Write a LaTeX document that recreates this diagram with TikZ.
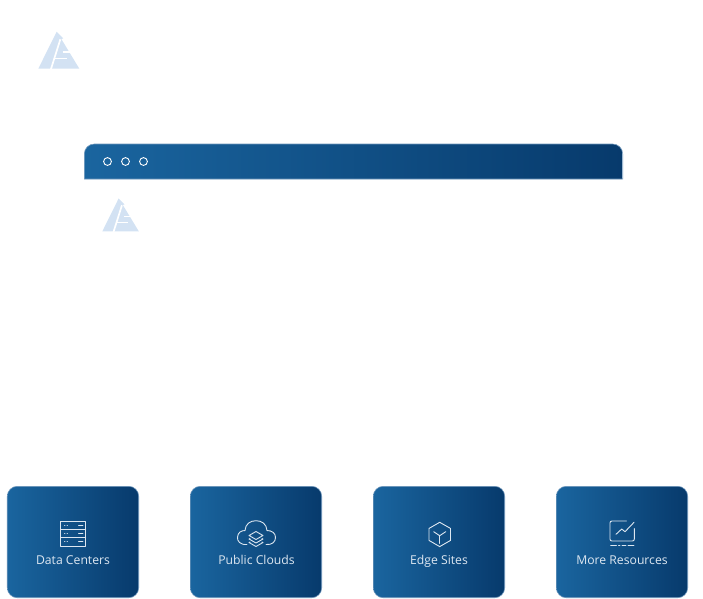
\documentclass[tikz,border=0pt]{standalone}
\usepackage{fontspec}
\setmainfont{Open Sans}
\usetikzlibrary{matrix}

\definecolor{barleft}{HTML}{1A659F}
\definecolor{barright}{HTML}{073A6C}
\definecolor{edge}{HTML}{6F97BC}
\definecolor{logoblue}{HTML}{D3E2F3}
\definecolor{cardtext}{HTML}{DDE7F1}

\tikzstyle{card} = [minimum width = 131.4pt, minimum height = 111.4pt, outer sep = 0pt, rounded corners = 10pt, draw = edge, line width = 0.6pt, left color = barleft, right color = barright]
\tikzstyle{lbl} = [text = cardtext, font = \fontsize{12.2}{14}\selectfont, inner sep = 0pt]
\tikzstyle{ico} = [draw = cardtext, line width = 0.9pt, line join = round, line cap = round]
\tikzstyle{dot} = [draw = white, line width = 0.9pt]

\tikzset{logo/.pic = {
    \fill [logoblue] (110,35) -- (130,55) -- (124,57) -- (178,146) -- (55,146) -- cycle;
    \draw [white, line width = 1.7pt] (121,58) -- (92,150);
    \draw [white, line width = 1.6pt] (106,116) -- (142,116);
    \draw [white, line width = 1.6pt] (128,96) -- (155,96);
}}

\begin{document}
\begin{tikzpicture}[x = 1pt, y = -1pt]
    \useasboundingbox (0,0) rectangle (703,598);

    % logos
    \pic [scale = 0.3333] at (20,20) {logo};
    \pic [scale = 0.2977] at (85.9,188) {logo};

    % window bar
    \draw [edge, line width = 0.6pt, left color = barleft, right color = barright] (84.3,179) -- (84.3,154) [rounded corners = 10pt] -- (84.3,144) -- (622.7,144) [sharp corners] -- (622.7,154) -- (622.7,179) -- cycle;
    \draw [dot] (107.5,161.5) circle (3.9);
    \draw [dot] (125.5,161.5) circle (3.9);
    \draw [dot] (143.5,161.5) circle (3.9);

    % cards
    \matrix (cards) at (347.5,542) [column sep = 51pt, inner sep = 0pt]
    {
        \node (dc) [card] {}; & \node (pc) [card] {}; & \node (es) [card] {}; & \node (mr) [card] {};\\
    };

    \node (dctext) [lbl] at (73,560) {Data Centers};
    \node (pctext) [lbl] at (256.5,560) {Public Clouds};
    \node (estext) [lbl] at (439,561) {Edge Sites};
    \node (mrtext) [lbl] at (622,560) {More Resources};

    % data centers
    \draw [ico] (60.7,521.3) rectangle (85.7,546);
    \draw [ico] (60.7,529.5) -- (85.7,529.5);
    \draw [ico] (60.7,537.8) -- (85.7,537.8);
    \foreach \y in {525.4, 533.6, 541.9}
    {
        \draw [ico] (64.5,\y) -- (65,\y);
        \draw [ico] (67,\y) -- (67.5,\y);
        \draw [ico] (78.5,\y) -- (83,\y);
    }

    % public clouds
    \draw [ico] (247,544.5) .. controls (240,545) and (237,541) .. (237.5,537) .. controls (238,532.5) and (241,530.5) .. (245,530.5) .. controls (245.5,524) and (250,520.7) .. (256,520.7) .. controls (262,520.7) and (266.5,524) .. (267,530.5) .. controls (272,530.5) and (275.5,533) .. (275.5,537.5) .. controls (275.5,542) and (272,545) .. (266,544.5);
    \draw [ico] (256,531.5) -- (263,535.5) -- (256,539.5) -- (249,535.5) -- cycle;
    \draw [ico] (250,538.5) -- (249,539) -- (256,543) -- (263,539) -- (262,538.5);
    \draw [ico] (250,542) -- (249,542.5) -- (256,546.5) -- (263,542.5) -- (262,542);

    % edge sites
    \draw [ico] (439.7,522.3) -- (450.5,528.4) -- (450.5,540.4) -- (439.7,546.6) -- (429,540.4) -- (429,528.4) -- cycle;
    \draw [ico] (433.7,531.7) -- (439.7,535.7) -- (445.7,531.7);
    \draw [ico] (439.7,535.7) -- (439.7,543.3);

    % more resources
    \draw [ico] (626.5,521) -- (612,521) .. controls (610.7,521) and (610,521.7) .. (610,523) -- (610,539) .. controls (610,540.3) and (610.7,541) .. (612,541) -- (632.3,541) .. controls (633.6,541) and (634.3,540.3) .. (634.3,539) -- (634.3,528.5);
    \draw [ico] (616,534.3) -- (621.7,529) -- (625,531.7) -- (634,522.3);
    \draw [ico] (610.7,545) -- (616.5,545);
    \draw [ico] (618.5,545) -- (620,545);
    \draw [ico] (622,545) -- (626,545);
    \draw [ico] (628,545) -- (634,545);
\end{tikzpicture}
\end{document}
